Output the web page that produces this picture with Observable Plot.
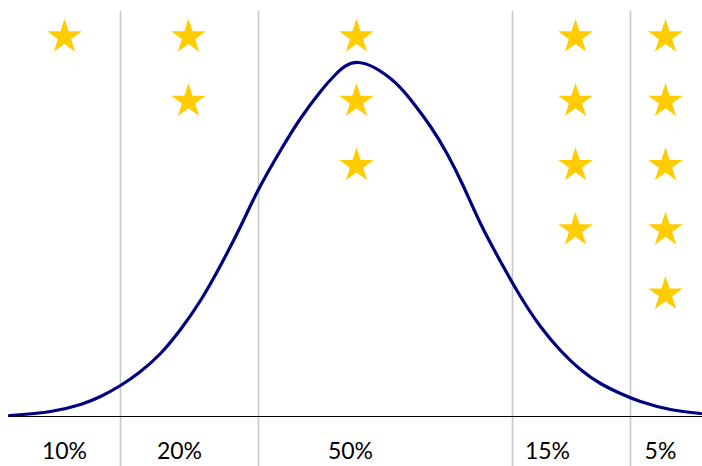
<!DOCTYPE html>
<html>
<head>
<meta charset="utf-8">
<script src="https://cdn.jsdelivr.net/npm/d3@7"></script>
<script src="https://cdn.jsdelivr.net/npm/@observablehq/plot@0.6"></script>
<style>
  html, body { margin: 0; padding: 0; background: #fff; }
  #chart svg { display: block; }
</style>
</head>
<body>
<div id="chart"></div>
<script>
// Curve: position along the axis and height above the baseline
const curveX = [9, 50, 80, 100, 120, 140, 160, 180, 200, 220, 240, 258, 280, 300, 320, 335, 358, 390, 410, 430, 447, 463, 480, 500, 520, 540, 560, 580, 600, 620, 640, 670, 700];
const curveH = [1, 5, 12, 20, 31, 45, 63, 87, 116, 151, 190, 227, 266, 298, 325, 342, 354, 338, 317, 290, 262, 230, 193, 155, 120, 90, 66, 47, 33, 23, 15, 7, 3];

// Segment boundaries (vertical dividers)
const dividers = [120, 258, 512, 630];

// Segments: share label, star count, star column position, label position
const shares = ["10%", "20%", "50%", "15%", "5%"];
const starCounts = [1, 2, 3, 4, 5];
const starX = [64, 188, 356, 575, 665];
const labelX = [64, 179, 350, 547, 660];

const curve = curveX.map((x, i) => ({x, h: curveH[i]}));

// layout constants (in y-scale units)
const starTop = 379.5, starStep = 64.3;
const stars = [];
starCounts.forEach((n, j) => {
  for (let i = 0; i < n; i++) stars.push({x: starX[j], y: starTop - i * starStep});
});
const labels = shares.map((s, i) => ({x: labelX[i], s}));

const chart = Plot.plot({
  width: 702,
  height: 466,
  marginLeft: 0,
  marginRight: 0,
  marginTop: 0,
  marginBottom: 50,
  x: {domain: [0, 702], axis: null},
  y: {domain: [0, 416], axis: null},
  style: {background: "#fff", fontFamily: "Lato, 'Open Sans', sans-serif"},
  marks: [
    Plot.ruleX(dividers, {y1: -50, y2: 405.5, stroke: "#c8c8c8", strokeWidth: 1.6}),
    Plot.ruleY([0], {x1: 8, x2: 702, stroke: "#000", strokeWidth: 1.2}),
    Plot.line(curve, {x: "x", y: "h", curve: "natural", stroke: "#000080", strokeWidth: 3.2}),
    Plot.dot(stars, {x: "x", y: "y", symbol: "star", r: 10.9, fill: "#FFCC00", stroke: "none"}),
    Plot.text(labels, {x: "x", y: -35, text: "s", fontSize: 23, fill: "#000"})
  ]
});
document.getElementById("chart").appendChild(chart);
</script>
</body>
</html>
